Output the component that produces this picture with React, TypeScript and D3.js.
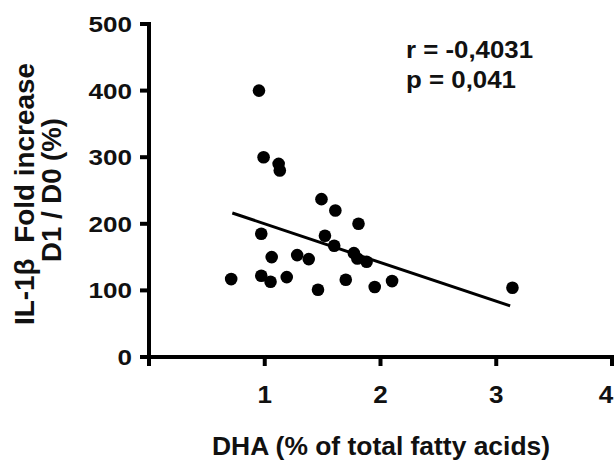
import React from "react";
import * as d3 from "d3";

const dhaValues = [0.71, 0.95, 0.97, 0.97, 0.99, 1.06, 1.05, 1.12, 1.13, 1.19, 1.28, 1.38, 1.46, 1.49, 1.52, 1.6, 1.61, 1.7, 1.77, 1.81, 1.8, 1.88, 1.95, 2.1, 3.14];
const il1bValues = [117, 400, 185, 122, 300, 150, 113, 290, 280, 120, 153, 147, 101, 237, 182, 167, 220, 116, 156, 200, 148, 143, 105, 114, 104];

const fitSlope = -58.1;
const fitIntercept = 258.0;
const fitRange = [0.72, 3.12];

const xTicks = [0, 1, 2, 3, 4];
const xTickLabels = ["", "1", "2", "3", "4"];
const yTicks = [0, 100, 200, 300, 400, 500];
const yTickLabels = ["0", "100", "200", "300", "400", "500"];

const xTitle = "DHA (% of total fatty acids)";
const yTitleLines = ["IL-1β\u00A0 Fold increase", "D1 / D0 (%)"];
const statLines = ["r = -0,4031", "p = 0,041"];

export default function App() {
  const W = 616, H = 466;
  const x = d3.scaleLinear().domain([0, 4]).range([149, 612]);
  const y = d3.scaleLinear().domain([0, 500]).range([357, 24]);
  const font = "'Liberation Sans', Arial, sans-serif";
  const tick = 9;
  const digitW = 14.5;
  const line = d3.line<number>().x((v) => x(v)).y((v) => y(fitIntercept + fitSlope * v));

  return (
    <svg width={W} height={H} style={{ position: "fixed", left: 0, top: 0, background: "#fff" }} fontFamily={font} fontWeight="bold">
      <rect width={W} height={H} fill="#fff" />
      <line x1={x(0)} x2={x(0)} y1={y(500) - 2} y2={y(0) + tick} stroke="#000" strokeWidth={4} />
      <line x1={x(0) - tick} x2={x(4) + 2} y1={y(0)} y2={y(0)} stroke="#000" strokeWidth={4} />
      {yTicks.map((t, i) => (
        <g key={"y" + i}>
          <line x1={x(0) - tick} x2={x(0)} y1={y(t)} y2={y(t)} stroke="#000" strokeWidth={4} />
          <text x={132} y={y(t)} dy="0.36em" textAnchor="end" fontSize={22} textLength={digitW * yTickLabels[i].length} lengthAdjust="spacingAndGlyphs" fill="#111">{yTickLabels[i]}</text>
        </g>
      ))}
      {xTicks.map((t, i) => (
        <g key={"x" + i}>
          <line x1={x(t)} x2={x(t)} y1={y(0)} y2={y(0) + tick} stroke="#000" strokeWidth={4} />
          {xTickLabels[i] && (
            <text x={Math.min(x(t), 606)} y={403} textAnchor="middle" fontSize={23} textLength={digitW} lengthAdjust="spacingAndGlyphs" fill="#111">{xTickLabels[i]}</text>
          )}
        </g>
      ))}
      <path d={line(fitRange) || ""} stroke="#000" strokeWidth={3} fill="none" />
      {dhaValues.map((v, i) => (
        <circle key={"p" + i} cx={x(v)} cy={y(il1bValues[i])} r={6.3} fill="#000" />
      ))}
      <text x={406} y={58} fontSize={23} textLength={127} lengthAdjust="spacingAndGlyphs" fill="#111">{statLines[0]}</text>
      <text x={406} y={88} fontSize={23} textLength={110} lengthAdjust="spacingAndGlyphs" fill="#111">{statLines[1]}</text>
      <text x={381} y={455} textAnchor="middle" fontSize={25} textLength={338} lengthAdjust="spacingAndGlyphs" fill="#111">{xTitle}</text>
      <text transform="translate(34,194) rotate(-90)" textAnchor="middle" fontSize={27} textLength={262} lengthAdjust="spacingAndGlyphs" fill="#111">{yTitleLines[0]}</text>
      <text transform="translate(61,190) rotate(-90)" textAnchor="middle" fontSize={27} textLength={144} lengthAdjust="spacingAndGlyphs" fill="#111">{yTitleLines[1]}</text>
    </svg>
  );
}
